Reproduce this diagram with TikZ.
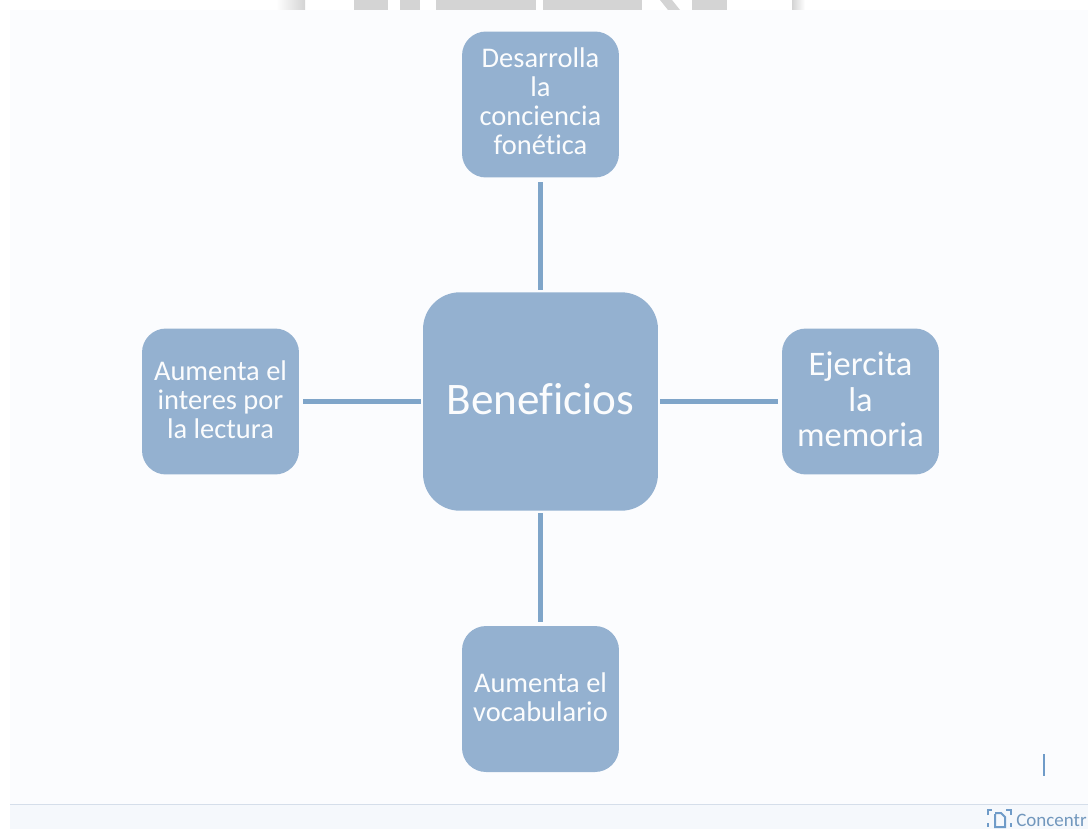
\documentclass[tikz,border=0pt]{standalone}
\usepackage{fontspec}
\setmainfont{Carlito}[Ligatures=NoCommon]
\definecolor{paneback}{HTML}{FBFCFE}
\definecolor{boxfill}{HTML}{94B1D0}
\definecolor{linkblue}{HTML}{7FA5C9}
\definecolor{barback}{HTML}{F5F8FC}
\definecolor{barline}{HTML}{D5DEEA}
\definecolor{topgray}{HTML}{D4D4D4}
\definecolor{barblue}{HTML}{6F9BC8}
\tikzset{
  smallbox/.style={fill=boxfill,rounded corners=0.48cm,minimum width=3.14cm,minimum height=2.92cm,
    inner sep=0pt,align=center,text=white!96!boxfill,text depth=0.09cm,font=\fontsize{16.2}{16.5}\selectfont},
  bigbox/.style={fill=boxfill,rounded corners=0.74cm,minimum width=4.7cm,minimum height=4.37cm,
    inner sep=0pt,text=white!96!boxfill,text depth=0.12cm,font=\fontsize{25.7}{27}\selectfont},
  link/.style={draw=linkblue,line width=0.1cm,shorten <=0.04cm,shorten >=0.08cm},
  graybit/.style={fill=topgray,draw=none}
}
\begin{document}
\begin{tikzpicture}[x=0.02cm,y=-0.02cm]
  \useasboundingbox (0,0) rectangle (1088,829);
  \clip (0,0) rectangle (1088,829);
  \fill[white] (0,0) rectangle (1088,829);
  % strip above the pane
  \fill[left color=white,right color=topgray] (276,0) rectangle (305,10);
  \fill[graybit] (354,0) rectangle (388,10);
  \fill[graybit] (400,0) rectangle (420,10);
  \fill[graybit] (436,0) rectangle (536,10);
  \fill[graybit] (543,0) rectangle (642,10);
  \fill[graybit] (660,0) -- (672,0) -- (680,10) -- (668,10) -- cycle;
  \fill[graybit] (692,0) rectangle (727,10);
  \fill[left color=topgray,right color=white] (792,0) rectangle (805,10);
  % pane and status bar
  \fill[paneback] (10,10) rectangle (1088,804);
  \fill[barback] (10,804) rectangle (1088,829);
  \draw[barline] (10,804) -- (1088,804);
  \draw[barblue,line width=0.04cm] (1044,754) -- (1044,776);
  % nodes
  \node[bigbox] (benef) at (540.5,401.5) {Beneficios};
  \node[smallbox,text depth=0.12cm] (desarrolla) at (540.5,104.5) {Desarrolla\\la\\conciencia\\fonética};
  \node[smallbox] (interes) at (220.5,401.5) {Aumenta el\\interes por\\la lectura};
  \node[smallbox,font=\fontsize{19.6}{20}\selectfont] (memoria) at (860.5,401.5) {Ejercita\\la\\memoria};
  \node[smallbox] (vocabulario) at (540.5,699) {Aumenta el\\vocabulario};
  % links
  \draw[link] (benef) to (desarrolla);
  \draw[link] (benef) to (interes);
  \draw[link] (benef) to (memoria);
  \draw[link] (benef) to (vocabulario);
  % status bar item
  \draw[barblue,line width=0.04cm] (995,814) -- (995,827) -- (1005,827) -- (1005,817) -- (1001,813) -- (995,813);
  \draw[barblue,line width=0.03cm] (988,815) -- (988,810) -- (992,810);
  \draw[barblue,line width=0.03cm] (1006,810) -- (1011,810) -- (1011,815);
  \draw[barblue,line width=0.03cm] (988,823) -- (988,827);
  \draw[barblue,line width=0.03cm] (1011,823) -- (1011,827);
  \node[anchor=west,inner sep=0pt,text=barblue!85!gray,font=\fontsize{10.8}{12}\selectfont] (concentr) at (1016,820) {Concentr};
\end{tikzpicture}
\end{document}
